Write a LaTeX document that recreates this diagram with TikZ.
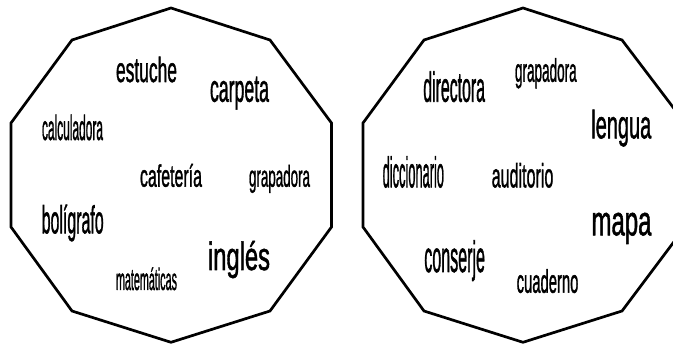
\documentclass[tikz,border=0pt]{standalone}
\usepackage{fontspec}
\setmainfont{Liberation Sans}
\newfontfamily\heavy{Liberation Sans}[FakeBold=1.6]
\usepackage{graphicx}
\newcommand\wrd[3]{\resizebox{#1pt}{\height}{\heavy\fontsize{#2}{#2}\selectfont #3}}
\tikzset{
  word/.style={anchor=base west, inner sep=0pt, outer sep=0pt, text=black},
  frame/.style={draw=black, line width=2.7pt, line join=miter}
}
\begin{document}
\begin{tikzpicture}[x=1pt,y=-1pt]
\useasboundingbox (0,0) rectangle (673,344);
\clip (0,0) rectangle (673,344);
% left polygon
\draw[frame] (171,8) -- (270,40) -- (331.5,123) -- (331.5,227) -- (270,311) -- (171,342.3)
  -- (72,311) -- (11,227) -- (11,123) -- (72,40) -- cycle;
% right polygon
\draw[frame] (523,8) -- (622,40) -- (685,123) -- (685,227) -- (622,311) -- (523,342.3)
  -- (424,311) -- (363,227) -- (363,123) -- (424,40) -- cycle;
% left words
\node[word] (estuche) at (116,82) {\wrd{61}{35}{estuche}};
\node[word] (carpeta) at (210,101.7) {\wrd{59}{38.5}{carpeta}};
\node[word] (calculadora) at (42,140) {\wrd{61}{35}{calculadora}};
\node[word] (cafeteria) at (140,186.7) {\wrd{62}{31}{cafetería}};
\node[word] (grapadoraL) at (249,186.7) {\wrd{61}{30}{grapadora}};
\node[word] (boligrafo) at (41.7,233.3) {\wrd{62}{39}{bolígrafo}};
\node[word] (ingles) at (208,270) {\wrd{62}{39.5}{inglés}};
\node[word] (matematicas) at (116,290) {\wrd{61}{30.7}{matemáticas}};
% right words
\node[word] (directora) at (423.3,101.7) {\wrd{61.7}{42}{directora}};
\node[word] (grapadoraR) at (515,81.7) {\wrd{61.7}{32.6}{grapadora}};
\node[word] (lengua) at (591.3,138.3) {\wrd{60}{39.5}{lengua}};
\node[word] (diccionario) at (382.7,187.3) {\wrd{61.3}{43}{diccionario}};
\node[word] (auditorio) at (491.7,187.3) {\wrd{61.7}{33.5}{auditorio}};
\node[word] (mapa) at (591.5,235.3) {\wrd{60}{41.8}{mapa}};
\node[word] (conserje) at (424.3,272) {\wrd{60.7}{43.7}{conserje}};
\node[word] (cuaderno) at (516.7,292.7) {\wrd{61.7}{32.6}{cuaderno}};
\end{tikzpicture}
\end{document}
